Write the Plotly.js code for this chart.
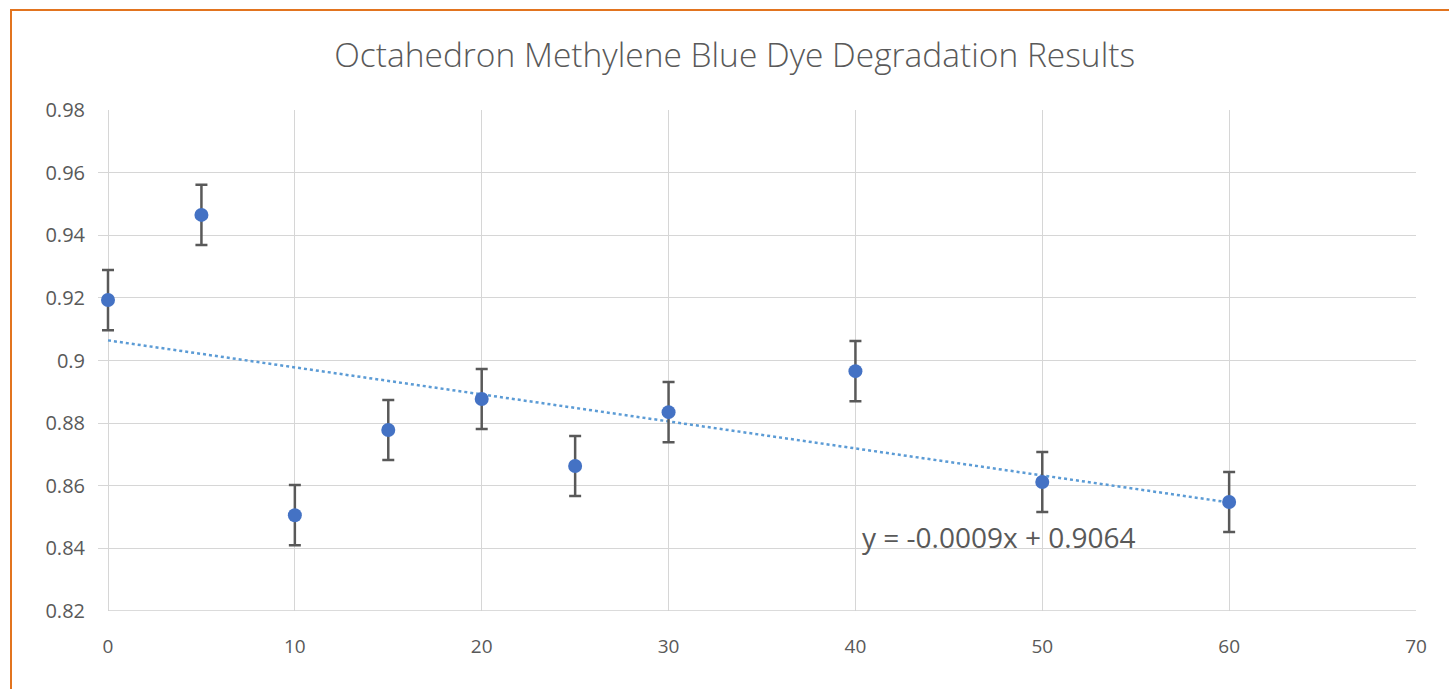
<!DOCTYPE html>
<html>
<head>
<meta charset="utf-8">
<script src="https://cdn.plot.ly/plotly-3.0.1.min.js"></script>
<style>
html,body{margin:0;padding:0;background:#fff;overflow:hidden;}
#frame{position:absolute;left:10px;top:9px;width:1439px;height:680px;border-left:2.5px solid #E2741F;border-top:2.5px solid #E2741F;box-sizing:border-box;}
#chart{position:absolute;left:0;top:0;width:1449px;height:689px;}
</style>
</head>
<body>
<div id="chart"></div>
<div id="frame"></div>
<script>
const times = [0, 5, 10, 15, 20, 25, 30, 40, 50, 60];
const absorbance = [0.9193, 0.9465, 0.8506, 0.8778, 0.8877, 0.8663, 0.8835, 0.8966, 0.8612, 0.8548];
const errors = [0.0096, 0.0096, 0.0096, 0.0096, 0.0096, 0.0096, 0.0096, 0.0096, 0.0096, 0.0096];
const yTickVals = [0.82, 0.84, 0.86, 0.88, 0.9, 0.92, 0.94, 0.96, 0.98];
const yTickText = ["0.82", "0.84", "0.86", "0.88", "0.9", "0.92", "0.94", "0.96", "0.98"];
const xTickVals = [0, 10, 20, 30, 40, 50, 60, 70];
const xTickText = ["0", "10", "20", "30", "40", "50", "60", "70"];
const titleText = "Octahedron Methylene Blue Dye Degradation Results";
const equationText = "y = -0.0009x + 0.9064";

// least-squares linear trendline from the data
const n = times.length;
const mx = times.reduce((a,b)=>a+b,0)/n;
const my = absorbance.reduce((a,b)=>a+b,0)/n;
let sxy = 0, sxx = 0;
for (let i=0;i<n;i++){ sxy += (times[i]-mx)*(absorbance[i]-my); sxx += (times[i]-mx)**2; }
const slope = sxy/sxx, intercept = my - slope*mx;
const trendX = [times[0], times[n-1]];
const trendY = trendX.map(x => intercept + slope*x);

// extra room left of x=0 so the first marker and its error bar are not clipped
const padLeft = 0.535;

const traces = [
  {
    x: trendX, y: trendY, mode: 'lines', type: 'scatter',
    line: {color: '#5B9BD5', width: 2.5, dash: 'dot'},
    hoverinfo: 'skip', showlegend: false
  },
  {
    x: times, y: absorbance, mode: 'markers', type: 'scatter',
    marker: {color: '#4472C4', size: 14},
    error_y: {type: 'data', array: errors, visible: true, color: '#595959', thickness: 2.5, width: 6},
    showlegend: false
  }
];

const layout = {
  width: 1449, height: 689,
  margin: {l: 98, r: 33, t: 110, b: 78},
  paper_bgcolor: '#ffffff', plot_bgcolor: '#ffffff',
  font: {family: '"Open Sans", sans-serif', color: '#595959'},
  title: {
    text: titleText,
    font: {family: '"Open Sans", sans-serif', size: 33.5, color: '#595959', weight: 300},
    xref: 'container', x: 0.507, xanchor: 'center',
    yref: 'container', y: 0.92, yanchor: 'middle'
  },
  xaxis: {
    range: [-padLeft, 70], tickvals: xTickVals, ticktext: xTickText,
    showgrid: true, gridcolor: '#d6d6d6', gridwidth: 1,
    zeroline: false, showline: false,
    ticks: '', ticklabelstandoff: 22,
    tickfont: {size: 19, color: '#595959'}
  },
  yaxis: {
    range: [0.82, 0.98], tickvals: yTickVals, ticktext: yTickText,
    showgrid: true, gridcolor: '#d6d6d6', gridwidth: 1,
    zeroline: false, showline: false,
    ticks: '', ticklabelstandoff: 12,
    tickfont: {size: 20, color: '#595959'}
  },
  shapes: [
    {type: 'rect', xref: 'x', yref: 'paper', x0: -padLeft, x1: -0.04, y0: -0.01, y1: 1.01,
     fillcolor: '#ffffff', line: {width: 0}, layer: 'between'},
    {type: 'line', xref: 'x', yref: 'y', x0: 0, x1: 70, y0: 0.82, y1: 0.82,
     line: {color: '#cfcfcf', width: 1.5}, layer: 'between'}
  ],
  annotations: [
    {
      text: equationText, x: 47.7, y: 0.8436, xref: 'x', yref: 'y',
      showarrow: false, xanchor: 'center', yanchor: 'middle',
      font: {family: '"Open Sans", sans-serif', size: 28, color: '#595959'}
    }
  ]
};

Plotly.newPlot('chart', traces, layout, {displayModeBar: false, staticPlot: true});
</script>
</body>
</html>
